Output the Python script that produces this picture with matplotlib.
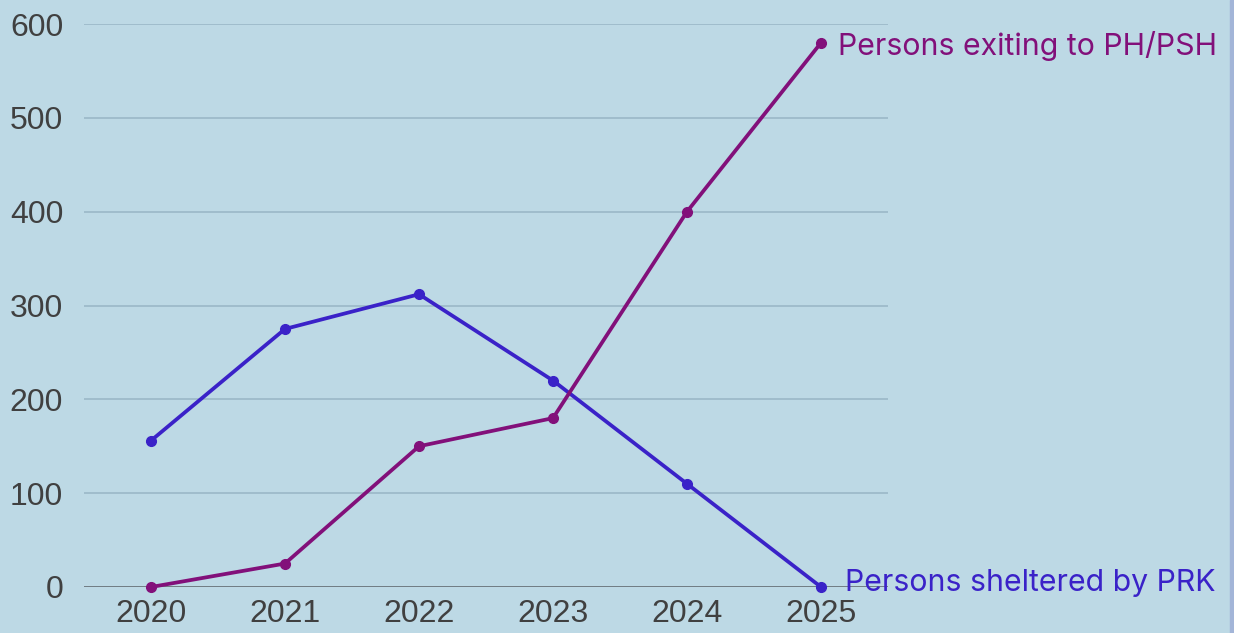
import numpy as np
import matplotlib.pyplot as plt
from matplotlib.patches import Rectangle

# Data
years = ['2020', '2021', '2022', '2023', '2024', '2025']
sheltered = [156, 275, 312, 220, 110, 0]
exiting = [0, 25, 150, 180, 400, 580]
y_ticks = [0, 100, 200, 300, 400, 500, 600]

bg = '#bdd9e5'
blue = '#3a22c8'
purple = '#82107a'

fig = plt.figure(figsize=(12.34, 6.33), dpi=100, facecolor=bg)
ax = fig.add_axes([84 / 1234, (633 - 587) / 633, (888 - 84) / 1234, (587 - 24) / 633])
ax.set_facecolor(bg)

x = np.arange(len(years))
ax.plot(x, sheltered, color=blue, lw=2.7, marker='o', ms=7, clip_on=False, zorder=3)
ax.plot(x, exiting, color=purple, lw=2.7, marker='o', ms=7, clip_on=False, zorder=4)

ax.set_xlim(-0.5, len(years) - 0.5)
ax.set_ylim(0, 600)
ax.set_xticks(x)
ax.set_xticklabels(years)
ax.set_yticks(y_ticks)

for s in ax.spines.values():
    s.set_visible(False)
ax.grid(axis='y', color='#9bb8c8', lw=1.2)
ax.axhline(0, color='#6e787e', lw=1.3, zorder=2)
ax.tick_params(length=0, labelsize=23, labelcolor='#404040')
ax.tick_params(axis='y', pad=15)
ax.tick_params(axis='x', pad=9)
for lab in ax.get_xticklabels() + ax.get_yticklabels():
    lab.set_fontfamily('Liberation Sans')

# end labels
ax.annotate('Persons exiting to PH/PSH', xy=(x[-1], exiting[-1]), xytext=(12, -2),
            textcoords='offset points', ha='left', va='center', color=purple,
            fontsize=21.8, family='Inter', annotation_clip=False)
ax.annotate('Persons sheltered by PRK', xy=(x[-1], sheltered[-1]), xytext=(17, 3),
            textcoords='offset points', ha='left', va='center', color=blue,
            fontsize=21.8, family='Inter', annotation_clip=False)

# right edge strip
fig.patches.append(Rectangle((1230 / 1234, 0), 4 / 1234, 1, transform=fig.transFigure,
                             color='#a3b5d8', zorder=0))

fig.savefig('out.png', dpi=100, facecolor=bg)
